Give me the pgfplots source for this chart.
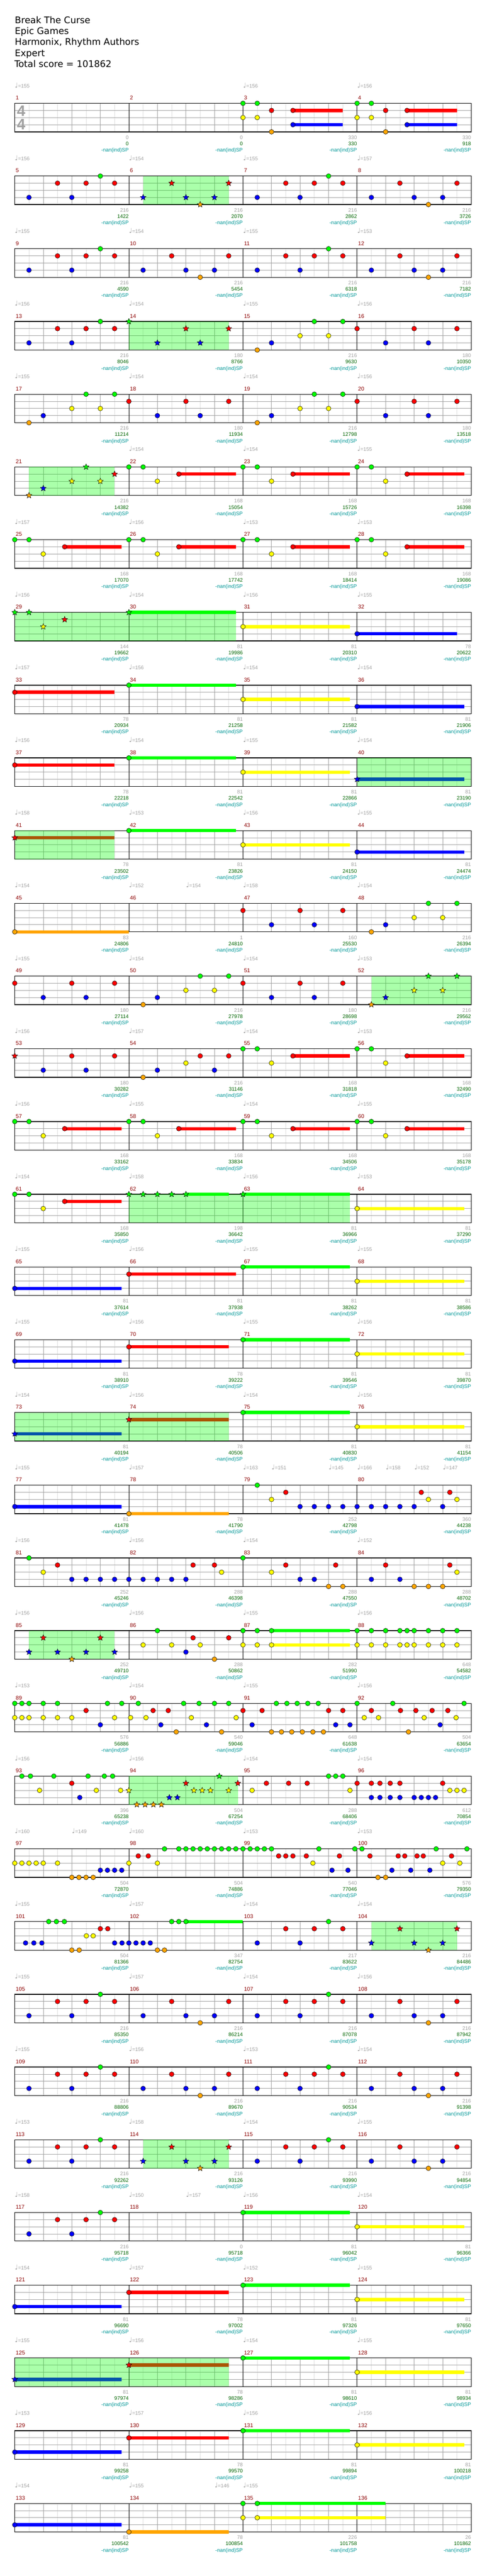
\documentclass[border=0pt]{standalone}
\usepackage{fontspec}
\setmainfont{DejaVu Sans}
\newfontfamily\dvs{DejaVu Sans}
\newfontfamily\lib{Liberation Sans}
\usepackage{pgfplots}
\pgfplotsset{compat=1.18}
\definecolor{cG}{RGB}{0,255,0}
\definecolor{cR}{RGB}{255,0,0}
\definecolor{cY}{RGB}{255,255,0}
\definecolor{cB}{RGB}{0,0,255}
\definecolor{cO}{RGB}{255,165,0}
\definecolor{gmaj}{RGB}{160,160,160}
\definecolor{gmin}{RGB}{222,222,222}
\definecolor{mnum}{RGB}{139,0,0}
\definecolor{scA}{RGB}{160,160,160}
\definecolor{scB}{RGB}{0,100,0}
\definecolor{scC}{RGB}{0,150,150}
\newdimen\starin
\pgfdeclareplotmark{fstar}{%
  \starin=0.45\pgfplotmarksize
  \pgfpathmoveto{\pgfqpointpolar{90}{\pgfplotmarksize}}%
  \pgfpathlineto{\pgfqpointpolar{126}{\starin}}%
  \pgfpathlineto{\pgfqpointpolar{162}{\pgfplotmarksize}}%
  \pgfpathlineto{\pgfqpointpolar{198}{\starin}}%
  \pgfpathlineto{\pgfqpointpolar{234}{\pgfplotmarksize}}%
  \pgfpathlineto{\pgfqpointpolar{270}{\starin}}%
  \pgfpathlineto{\pgfqpointpolar{306}{\pgfplotmarksize}}%
  \pgfpathlineto{\pgfqpointpolar{342}{\starin}}%
  \pgfpathlineto{\pgfqpointpolar{18}{\pgfplotmarksize}}%
  \pgfpathlineto{\pgfqpointpolar{54}{\starin}}%
  \pgfpathclose
  \pgfusepathqfillstroke}
\pgfplotsset{
  row/.style={width=480pt, height=30pt, scale only axis,
    xmin=0, xmax=16, ymin=0, ymax=4, y dir=reverse, clip=false,
    xtick={0,...,16}, ytick={1,2,3}, minor x tick num=1,
    xmajorgrids, ymajorgrids, xminorgrids,
    major grid style={gmaj, line width=0.5pt},
    minor grid style={gmin, line width=0.5pt},
    extra x ticks={4,8,12}, extra x tick labels={},
    extra x tick style={grid=major, major grid style={black, line width=0.5pt}},
    xticklabels={}, yticklabels={},
    major tick length=0pt, minor tick length=0pt, tick style={draw=none},
    axis line style={black, line width=0.7pt},
    anchor=north west},
  rowat/.style={at={(15.5pt,{-(108.65+76.5*#1)*1pt})}},
  nt/.style={only marks, mark=*, mark size=2.5pt, mark options={fill=#1, draw=black, line width=0.3pt}, forget plot},
  st/.style={only marks, mark=fstar, mark size=3.2pt, mark options={fill=#1, draw=black, line width=0.3pt}, forget plot},
}
\tikzset{
  mn/.style={anchor=base west, inner sep=0pt, text=mnum, font=\lib\fontsize{5.8pt}{6pt}\selectfont},
  tp/.style={anchor=base west, inner sep=0pt, text=gmaj, font=\lib\fontsize{5.4pt}{6pt}\selectfont},
  sc/.style={anchor=base east, inner sep=0pt, font=\lib\fontsize{5.4pt}{6pt}\selectfont},
}
\newcommand\N[3]{\gdef\nlist{}\foreach \vv in {#3}{\xdef\nlist{\nlist(\vv,#2)}}\edef\doit{\noexpand\addplot[#1] coordinates {\nlist};}\doit}
\newcommand\nG[1]{\N{nt=cG}{0}{#1}}
\newcommand\nR[1]{\N{nt=cR}{1}{#1}}
\newcommand\nY[1]{\N{nt=cY}{2}{#1}}
\newcommand\nB[1]{\N{nt=cB}{3}{#1}}
\newcommand\nO[1]{\N{nt=cO}{4}{#1}}
\newcommand\sG[1]{\N{st=cG}{0}{#1}}
\newcommand\sR[1]{\N{st=cR}{1}{#1}}
\newcommand\sY[1]{\N{st=cY}{2}{#1}}
\newcommand\sB[1]{\N{st=cB}{3}{#1}}
\newcommand\sO[1]{\N{st=cO}{4}{#1}}
\newcommand\U[4]{\addplot[#1, line width=3.5pt, no marks, forget plot] coordinates {(#3,#2)(#4,#2)};}
\newcommand\uG[2]{\U{cG}{0}{#1}{#2}}
\newcommand\uR[2]{\U{cR}{1}{#1}{#2}}
\newcommand\uY[2]{\U{cY}{2}{#1}{#2}}
\newcommand\uB[2]{\U{cB}{3}{#1}{#2}}
\newcommand\uO[2]{\U{cO}{4}{#1}{#2}}
\newcommand\SP[2]{\addplot[draw=none, fill=cG, fill opacity=0.333, forget plot] coordinates {(#1,0)(#2,0)(#2,4)(#1,4)};}
\newcommand\M[1]{%
  \node[mn] at (axis cs:0.03,-0.49) {\the\numexpr#1\relax};
  \node[mn] at (axis cs:4.03,-0.49) {\the\numexpr#1+1\relax};
  \node[mn] at (axis cs:8.03,-0.49) {\the\numexpr#1+2\relax};
  \node[mn] at (axis cs:12.03,-0.49) {\the\numexpr#1+3\relax};}
\newcommand\T[2]{\node[tp] at (axis cs:#1,-2.2) {{\dvs\fontsize{7pt}{7pt}\selectfont ♩}=#2};}
\newcommand\Sc[3]{%
  \node[sc, text=scA] at (axis cs:#1,5.03) {#2};
  \node[sc, text=scB] at (axis cs:#1,5.91) {#3};
  \node[sc, text=scC] at (axis cs:#1,6.8) {-nan(ind)SP};}
\newcommand\Full{\nG{3,11}\nR{1.5,2.5,3.5,5.5,7.5,9.5,10.5,11.5,13.5,15.5}\nB{0.5,2,4.5,6,7,8.5,10,12.5,14,15}\nO{6.5,14.5}}
\newcommand\FullS{\nG{3,11}\nR{1.5,2.5,3.5,9.5,10.5,11.5,13.5,15.5}\nB{0.5,2,8.5,10,12.5,14,15}\nO{14.5}\sB{4.5,6,7}\sR{5.5,7.5}\sO{6.5}\SP{4.5}{7.5}}
\newcommand\GYR{\uR{1.75}{3.75}\uR{5.75}{7.75}\uR{9.75}{11.75}\uR{13.75}{15.75}\nG{0,0.5,4,4.5,8,8.5,12,12.5}\nY{1,5,9,13}\nR{1.75,5.75,9.75,13.75}}
\begin{document}
\begin{tikzpicture}
\useasboundingbox (0,0) rectangle (512pt,-2709.5pt);
\begin{scope}[every node/.style={anchor=base west, inner sep=0pt, font=\fontsize{9.6pt}{11pt}\selectfont}]
\node at (15.5pt,-24.65pt) {Break The Curse};
\node at (15.5pt,-36.15pt) {Epic Games};
\node at (15.5pt,-47.65pt) {Harmonix, Rhythm Authors};
\node at (15.5pt,-59.15pt) {Expert};
\node at (15pt,-70.6pt) {Total score = 101862};
\end{scope}
% row 0
\begin{axis}[row,rowat=0]
\uR{9.75}{11.5}\uB{9.75}{11.5}\uR{13.75}{15.5}\uB{13.75}{15.5}
\nG{8,8.5,12,12.5}\nY{8,8.5,12,12.5}\nR{9,9.75,13,13.75}\nO{9,13}\nB{9.75,13.75}
\node[inner sep=0pt, text=gmaj, font=\lib\bfseries\fontsize{16pt}{16pt}\selectfont] at (axis cs:0.225,1.08) {4};
\node[inner sep=0pt, text=gmaj, font=\lib\bfseries\fontsize{16pt}{16pt}\selectfont] at (axis cs:0.225,2.98) {4};
\M{1}\T{0}{155}\T{8}{156}\T{12}{156}
\Sc{4}{0}{0}\Sc{8}{0}{0}\Sc{12}{330}{330}\Sc{16}{330}{918}
\end{axis}
% row 1
\begin{axis}[row,rowat=1]
\FullS
\M{5}\T{0}{156}\T{4}{154}\T{8}{155}\T{12}{157}
\Sc{4}{216}{1422}\Sc{8}{216}{2070}\Sc{12}{216}{2862}\Sc{16}{216}{3726}
\end{axis}
% row 2
\begin{axis}[row,rowat=2]
\Full
\M{9}\T{0}{155}\T{4}{154}\T{8}{155}\T{12}{153}
\Sc{4}{216}{4590}\Sc{8}{216}{5454}\Sc{12}{216}{6318}\Sc{16}{216}{7182}
\end{axis}
% row 3
\begin{axis}[row,rowat=3]
\nG{3,10.5,11.5}\nR{1.5,2.5,3.5,12,14,15.5}\nB{0.5,2,9,13,14.5}\nO{8.5}\nY{10,11}
\sG{4}\sB{5,6.5}\sR{6,7.5}\SP{4}{7.5}
\M{13}\T{0}{156}\T{4}{154}\T{8}{155}\T{12}{156}
\Sc{4}{216}{8046}\Sc{8}{180}{8766}\Sc{12}{216}{9630}\Sc{16}{180}{10350}
\end{axis}
% row 4
\begin{axis}[row,rowat=4]
\nO{0.5,8.5}\nB{1,5,6.5,9,13,14.5}\nY{2,3,10,11}\nG{2.5,3.5,10.5,11.5}\nR{4,6,7.5,12,14,15.5}
\M{17}\T{0}{155}\T{4}{154}\T{8}{154}\T{12}{156}
\Sc{4}{216}{11214}\Sc{8}{180}{11934}\Sc{12}{216}{12798}\Sc{16}{180}{13518}
\end{axis}
% row 5
\begin{axis}[row,rowat=5]
\uR{5.75}{7.75}\uR{9.75}{11.75}\uR{13.75}{15.75}
\sO{0.5}\sB{1}\sY{2,3}\sG{2.5}\sR{3.5}
\nG{4,4.5,8,8.5,12,12.5}\nY{5,9,13}\nR{5.75,9.75,13.75}
\SP{0.5}{3.5}
\M{21}\T{4}{154}\T{8}{154}\T{12}{155}
\Sc{4}{216}{14382}\Sc{8}{168}{15054}\Sc{12}{168}{15726}\Sc{16}{168}{16398}
\end{axis}
% row 6
\begin{axis}[row,rowat=6]
\GYR
\M{25}\T{0}{157}\T{4}{156}\T{8}{153}\T{12}{153}
\Sc{4}{168}{17070}\Sc{8}{168}{17742}\Sc{12}{168}{18414}\Sc{16}{168}{19086}
\end{axis}
% row 7
\begin{axis}[row,rowat=7]
\uG{4}{7.75}\uY{8}{11.75}\uB{12}{15.5}
\sG{0,0.5,4}\sY{1}\sR{1.75}\nY{8}\nB{12}
\SP{0}{7.75}
\M{29}\T{0}{156}\T{4}{154}\T{8}{156}\T{12}{155}
\Sc{4}{144}{19662}\Sc{8}{81}{19986}\Sc{12}{81}{20310}\Sc{16}{78}{20622}
\end{axis}
% row 8
\begin{axis}[row,rowat=8]
\uR{0}{3.5}\uG{4}{7.75}\uY{8}{11.75}\uB{12}{15.75}
\nR{0}\nG{4}\nY{8}\nB{12}
\M{33}\T{0}{157}\T{4}{156}\T{8}{154}\T{12}{154}
\Sc{4}{78}{20934}\Sc{8}{81}{21258}\Sc{12}{81}{21582}\Sc{16}{81}{21906}
\end{axis}
% row 9
\begin{axis}[row,rowat=9]
\uR{0}{3.5}\uG{4}{7.75}\uY{8}{11.75}\uB{12}{15.75}
\nR{0}\nG{4}\nY{8}\sB{12}\SP{12}{16}
\M{37}\T{0}{156}\T{4}{154}\T{8}{155}\T{12}{154}
\Sc{4}{78}{22218}\Sc{8}{81}{22542}\Sc{12}{81}{22866}\Sc{16}{81}{23190}
\end{axis}
% row 10
\begin{axis}[row,rowat=10]
\uR{0}{3.5}\uG{4}{7.75}\uY{8}{11.75}\uB{12}{15.75}
\sR{0}\nG{4}\nY{8}\nB{12}\SP{0}{3.5}
\M{41}\T{0}{158}\T{4}{153}\T{8}{156}\T{12}{155}
\Sc{4}{78}{23502}\Sc{8}{81}{23826}\Sc{12}{81}{24150}\Sc{16}{81}{24474}
\end{axis}
% row 11
\begin{axis}[row,rowat=11]
\uO{0}{4}
\nO{0,12.5}\nR{8,10,11.5}\nB{9,10.5,13}\nY{14,15}\nG{14.5,15.5}
\M{45}\T{0}{154}\T{4}{152}\T{6}{154}\T{8}{158}\T{12}{154}
\Sc{4}{83}{24806}\Sc{8}{1}{24810}\Sc{12}{160}{25530}\Sc{16}{216}{26394}
\end{axis}
% row 12
\begin{axis}[row,rowat=12]
\nR{0,2,3.5,8,10,11.5}\nB{1,2.5,5,9,10.5}\nO{4.5}\nY{6,7}\nG{6.5,7.5}
\sO{12.5}\sB{13}\sY{14,15}\sG{14.5,15.5}\SP{12.5}{16}
\M{49}\T{0}{155}\T{4}{154}\T{8}{154}\T{12}{153}
\Sc{4}{180}{27114}\Sc{8}{216}{27978}\Sc{12}{180}{28698}\Sc{16}{216}{29562}
\end{axis}
% row 13
\begin{axis}[row,rowat=13]
\uR{9.75}{11.75}\uR{13.75}{15.75}
\sR{0}\nB{1,2.5,5,7}\nR{2,3.5,6.5,7.5,9.75,13.75}\nO{4.5}\nY{6,9,13}\nG{8,8.5,12,12.5}
\M{53}\T{0}{156}\T{4}{157}\T{8}{154}\T{12}{153}
\Sc{4}{180}{30282}\Sc{8}{216}{31146}\Sc{12}{168}{31818}\Sc{16}{168}{32490}
\end{axis}
% row 14
\begin{axis}[row,rowat=14]
\GYR
\M{57}\T{0}{156}\T{4}{155}\T{8}{154}\T{12}{155}
\Sc{4}{168}{33162}\Sc{8}{168}{33834}\Sc{12}{168}{34506}\Sc{16}{168}{35178}
\end{axis}
% row 15
\begin{axis}[row,rowat=15]
\uR{1.75}{3.75}\uG{6}{7.5}\uG{8}{11.75}\uY{12}{15.75}
\nG{0,0.5}\nY{1,12}\nR{1.75}\sG{4,4.5,5,5.5,6,8}\SP{4}{11.75}
\M{61}\T{0}{154}\T{4}{158}\T{8}{156}\T{12}{153}
\Sc{4}{168}{35850}\Sc{8}{198}{36642}\Sc{12}{81}{36966}\Sc{16}{81}{37290}
\end{axis}
% row 16
\begin{axis}[row,rowat=16]
\uB{0}{3.75}\uR{4}{7.75}\uG{8}{11.75}\uY{12}{15.75}
\nB{0}\nR{4}\nG{8}\nY{12}
\M{65}\T{0}{155}\T{4}{156}\T{8}{155}\T{12}{155}
\Sc{4}{81}{37614}\Sc{8}{81}{37938}\Sc{12}{81}{38262}\Sc{16}{81}{38586}
\end{axis}
% row 17
\begin{axis}[row,rowat=17]
\uB{0}{3.75}\uR{4}{7.5}\uG{8}{11.75}\uY{12}{15.75}
\nB{0}\nR{4}\nG{8}\nY{12}
\M{69}\T{0}{155}\T{4}{156}\T{8}{155}\T{12}{156}
\Sc{4}{81}{38910}\Sc{8}{78}{39222}\Sc{12}{81}{39546}\Sc{16}{81}{39870}
\end{axis}
% row 18
\begin{axis}[row,rowat=18]
\uB{0}{3.75}\uR{4}{7.5}\uG{8}{11.75}\uY{12}{15.75}
\sB{0}\sR{4}\nG{8}\nY{12}\SP{0}{7.5}
\M{73}\T{0}{154}\T{4}{156}\T{8}{154}\T{12}{156}
\Sc{4}{81}{40194}\Sc{8}{78}{40506}\Sc{12}{81}{40830}\Sc{16}{81}{41154}
\end{axis}
% row 19
\begin{axis}[row,rowat=19]
\uB{0}{3.75}\uO{4}{7.5}
\nB{0,10,10.5,11,11.5,12,12.5,13,13.5,14,15}\nO{4}\nG{8.5}\nY{9,14.5,15.5}\nR{9.5,14.25,15.25}
\M{77}\T{0}{155}\T{4}{157}\T{8}{163}\T{9}{151}\T{11}{145}\T{12}{166}\T{13}{158}\T{14}{152}\T{15}{147}
\Sc{4}{81}{41478}\Sc{8}{78}{41790}\Sc{12}{252}{42798}\Sc{16}{360}{44238}
\end{axis}
% row 20
\begin{axis}[row,rowat=20]
\nG{0.5,8}\nY{1,7.25,9,15.5}\nR{1.5,6.25,7,9.5,11.25,13,15.25}\nB{2,2.5,3,3.5,4,4.5,5,5.5,6,10,10.5,12.5,13.5}\nO{11,11.5,14,14.5,15}
\M{81}\T{0}{156}\T{4}{156}\T{8}{154}\T{12}{152}
\Sc{4}{252}{45246}\Sc{8}{288}{46398}\Sc{12}{288}{47550}\Sc{16}{288}{48702}
\end{axis}
% row 21
\begin{axis}[row,rowat=21]
\uG{9}{11.75}\uY{9}{11.75}
\sB{0.5,1.5,2.5,3.5}\sR{1,3}\sO{2}
\nY{4.5,5.5,6.5,8,8.5,9,12,12.5,13,13.5,13.75,14,14.5,15,15.5}\nG{5,8,8.5,9,12,12.5,13,13.5,13.75,14,14.5,15,15.5}\nB{6}\nR{6.25,7.5}\nO{7}
\SP{0.5}{3.5}
\M{85}\T{0}{156}\T{4}{156}\T{8}{155}\T{12}{156}
\Sc{4}{252}{49710}\Sc{8}{288}{50862}\Sc{12}{282}{51990}\Sc{16}{648}{54582}
\end{axis}
% row 22
\begin{axis}[row,rowat=22]
\nG{0,0.25,0.5,1,1.5,3.25,3.75,4.33,5.92,6.46,7,7.5,9.17,9.54,9.9,10.27,10.64,12,13.25,15.75}
\nY{0,0.25,0.5,1,1.5,2,3.5,4.06,4.6,6.19,7.76,12.25,12.75,14.35,15.47}
\nR{2.5,4.85,5.38,8,8.67,11,11.5,12.5,13.52,14.06,14.63,15.18}
\nB{3,5.12,6.72,8.32,11.25,11.75,14.91}
\nO{5.66,7.25,9,9.35,9.71,10.08,10.45,10.82,13.8}
\M{89}\T{0}{153}\T{4}{154}\T{8}{155}\T{12}{156}
\Sc{4}{576}{56886}\Sc{8}{540}{59046}\Sc{12}{648}{61638}\Sc{16}{504}{63654}
\end{axis}
% row 23
\begin{axis}[row,rowat=23]
\nG{0.25,0.55,1.37,2.57,3.14,3.43,11,11.25,11.5}
\nY{0.87,2.86,3.71,8.32,11.75,15.25,15.5,15.75}
\nR{2,8.82,9.6,10.25,12,12.5,12.8,13.16,13.5,15}
\nB{2.28,12.5,12.8,13.16,13.5,14,14.25,14.5,14.75}
\sY{4,6.28,6.57,6.86,7.5}\sO{4.28,4.57,4.86,5.14}\sB{5.42,5.7}\sR{6,7.82}\sG{7.17}
\SP{4}{7.82}
\M{93}\T{0}{156}\T{4}{156}\T{8}{154}\T{12}{154}
\Sc{4}{396}{65238}\Sc{8}{504}{67254}\Sc{12}{288}{68406}\Sc{16}{612}{70854}
\end{axis}
% row 24
\begin{axis}[row,rowat=24]
\nY{0,0.25,0.5,0.75,1,1.5,4,5,10.45,15,15.6}
\nO{2,2.25,2.5,2.75,12.73,13}
\nB{3,3.25,3.5,3.75,11.12,11.68,13.22,13.88,14.55}
\nR{4.33,4.68,9.25,9.5,9.75,10.22,11.38,12.45,13.44,13.67,14.1,14.32,15.31}
\nG{5.25,5.75,6,6.25,6.5,6.75,7,7.25,7.5,7.75,8,8.25,8.5,8.75,9,10.66,11.92,12.17,14.77,15.85}
\M{97}\T{0}{160}\T{2}{149}\T{4}{160}\T{8}{153}\T{12}{153}
\Sc{4}{504}{72870}\Sc{8}{504}{74886}\Sc{12}{540}{77046}\Sc{16}{576}{79350}
\end{axis}
% row 25
\begin{axis}[row,rowat=25]
\uG{6}{8}
\nB{0.38,0.67,0.95,3.5,3.76,4,4.25,4.5,4.75,8.5,10}
\nG{1.19,1.46,1.74,5.5,5.75,6,11}
\nO{2,2.26,5,5.25}\nY{2.51,2.75}\nR{3,3.26,9.5,10.5,11.5}
\sB{12.5,14,15}\sR{13.5,15.5}\sO{14.5}\SP{12.5}{15.5}
\M{101}\T{0}{155}\T{4}{157}\T{8}{154}\T{12}{154}
\Sc{4}{504}{81366}\Sc{8}{347}{82754}\Sc{12}{217}{83622}\Sc{16}{216}{84486}
\end{axis}
% row 26
\begin{axis}[row,rowat=26]
\Full
\M{105}\T{0}{155}\T{4}{157}\T{8}{154}\T{12}{156}
\Sc{4}{216}{85350}\Sc{8}{216}{86214}\Sc{12}{216}{87078}\Sc{16}{216}{87942}
\end{axis}
% row 27
\begin{axis}[row,rowat=27]
\Full
\M{109}\T{0}{155}\T{4}{156}\T{8}{153}\T{12}{154}
\Sc{4}{216}{88806}\Sc{8}{216}{89670}\Sc{12}{216}{90534}\Sc{16}{216}{91398}
\end{axis}
% row 28
\begin{axis}[row,rowat=28]
\FullS
\M{113}\T{0}{153}\T{4}{158}\T{8}{154}\T{12}{155}
\Sc{4}{216}{92262}\Sc{8}{216}{93126}\Sc{12}{216}{93990}\Sc{16}{216}{94854}
\end{axis}
% row 29
\begin{axis}[row,rowat=29]
\uG{8}{11.75}\uY{12}{15.75}
\nB{0.5,2}\nR{1.5,2.5,3.5}\nG{3,8}\nY{12}
\M{117}\T{0}{158}\T{4}{150}\T{6}{157}\T{8}{156}\T{12}{154}
\Sc{4}{216}{95718}\Sc{8}{0}{95718}\Sc{12}{81}{96042}\Sc{16}{81}{96366}
\end{axis}
% row 30
\begin{axis}[row,rowat=30]
\uB{0}{3.75}\uR{4}{7.5}\uG{8}{11.75}\uY{12}{15.75}
\nB{0}\nR{4}\nG{8}\nY{12}
\M{121}\T{0}{154}\T{4}{157}\T{8}{152}\T{12}{155}
\Sc{4}{81}{96690}\Sc{8}{78}{97002}\Sc{12}{81}{97326}\Sc{16}{81}{97650}
\end{axis}
% row 31
\begin{axis}[row,rowat=31]
\uB{0}{3.75}\uR{4}{7.5}\uG{8}{11.75}\uY{12}{15.75}
\sB{0}\sR{4}\nG{8}\nY{12}\SP{0}{7.5}
\M{125}\T{0}{155}\T{4}{156}\T{8}{154}\T{12}{155}
\Sc{4}{81}{97974}\Sc{8}{78}{98286}\Sc{12}{81}{98610}\Sc{16}{81}{98934}
\end{axis}
% row 32
\begin{axis}[row,rowat=32]
\uB{0}{3.75}\uR{4}{7.5}\uG{8}{11.75}\uY{12}{15.75}
\nB{0}\nR{4}\nG{8}\nY{12}
\M{129}\T{0}{153}\T{4}{157}\T{8}{156}\T{12}{156}
\Sc{4}{81}{99258}\Sc{8}{78}{99570}\Sc{12}{81}{99894}\Sc{16}{81}{100218}
\end{axis}
% row 33
\begin{axis}[row,rowat=33]
\uB{0}{3.75}\uO{4}{7.5}\uG{8.5}{13}\uY{8.5}{13}
\nB{0}\nO{4}\nG{8,8.5}\nY{8,8.5}
\M{133}\T{0}{154}\T{4}{155}\T{7}{146}\T{8}{155}
\Sc{4}{81}{100542}\Sc{8}{78}{100854}\Sc{12}{226}{101758}\Sc{16}{26}{101862}
\end{axis}
\end{tikzpicture}
\end{document}
